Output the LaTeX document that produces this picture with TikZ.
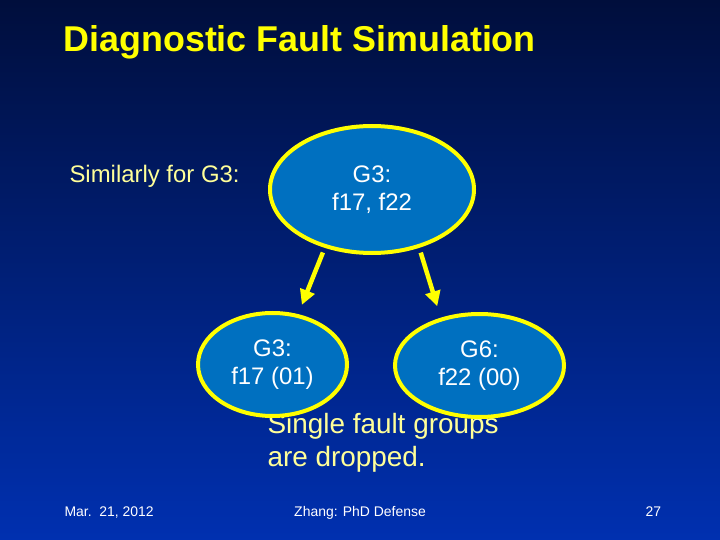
\documentclass[tikz,border=0pt]{standalone}
\usepackage{fontspec}
\setmainfont{Liberation Sans}
\usetikzlibrary{positioning,arrows.meta,shapes.geometric}
\definecolor{slidetop}{RGB}{0,14,60}
\definecolor{slidebot}{RGB}{0,48,176}
\definecolor{grpfill}{RGB}{0,112,192}
\definecolor{hiyel}{RGB}{255,255,0}
\definecolor{paleyel}{RGB}{255,255,153}

\begin{document}
\begin{tikzpicture}[x=1bp, y=-1bp,
  grp/.style={ellipse, draw=hiyel, line width=4bp, fill=grpfill,
              text=white, align=center, inner sep=0pt,
              font=\fontsize{24}{28}\selectfont},
  harc/.style={-{Triangle[length=15bp, width=15bp]}, line width=4.5bp, hiyel},
  note/.style={anchor=base west, text=paleyel,
               font=\fontsize{24}{28}\selectfont},
  foot/.style={anchor=base, text=white, font=\fontsize{14}{16}\selectfont},
]
  \useasboundingbox (0,0) rectangle (720,540);
  \shade[top color=slidetop, bottom color=slidebot] (0,0) rectangle (720,540);

  \node[anchor=base west, text=hiyel, font=\fontsize{36}{40}\selectfont\bfseries]
    (title) at (60,52) {Diagnostic Fault Simulation};
  \node[note] (simil) at (66,183) {Similarly for G3:};

  % text sits under the ellipses
  \node[note, font=\fontsize{28}{33}\selectfont] (drop1) at (264,433) {Single fault groups};
  \node[note, font=\fontsize{28}{33}\selectfont] (drop2) at (264,466) {are dropped.};

  \node[grp, minimum width=204bp, minimum height=127bp] (g3top) at (372,189.5)
    {G3:\\f17, f22};
  \node[grp, minimum width=149bp, minimum height=103bp] (g3left) at (272.5,364.5)
    {G3:\\f17 (01)};
  \node[grp, minimum width=169bp, minimum height=103bp] (g6right) at (479.5,365.5)
    {G6:\\f22 (00)};

  \draw[harc, shorten <=5bp, shorten >=10bp] (g3top.231) -- (g3left.63);
  \draw[harc, shorten <=5bp, shorten >=12bp] (g3top.309) -- (g6right.129);

  \node[foot, anchor=base west] (date) at (61,516) {Mar.\ \ 21, 2012};
  \node[foot] (talk) at (360,516) {Zhang: PhD Defense};
  \node[foot, anchor=base west] (page) at (642,516) {27};
\end{tikzpicture}
\end{document}
